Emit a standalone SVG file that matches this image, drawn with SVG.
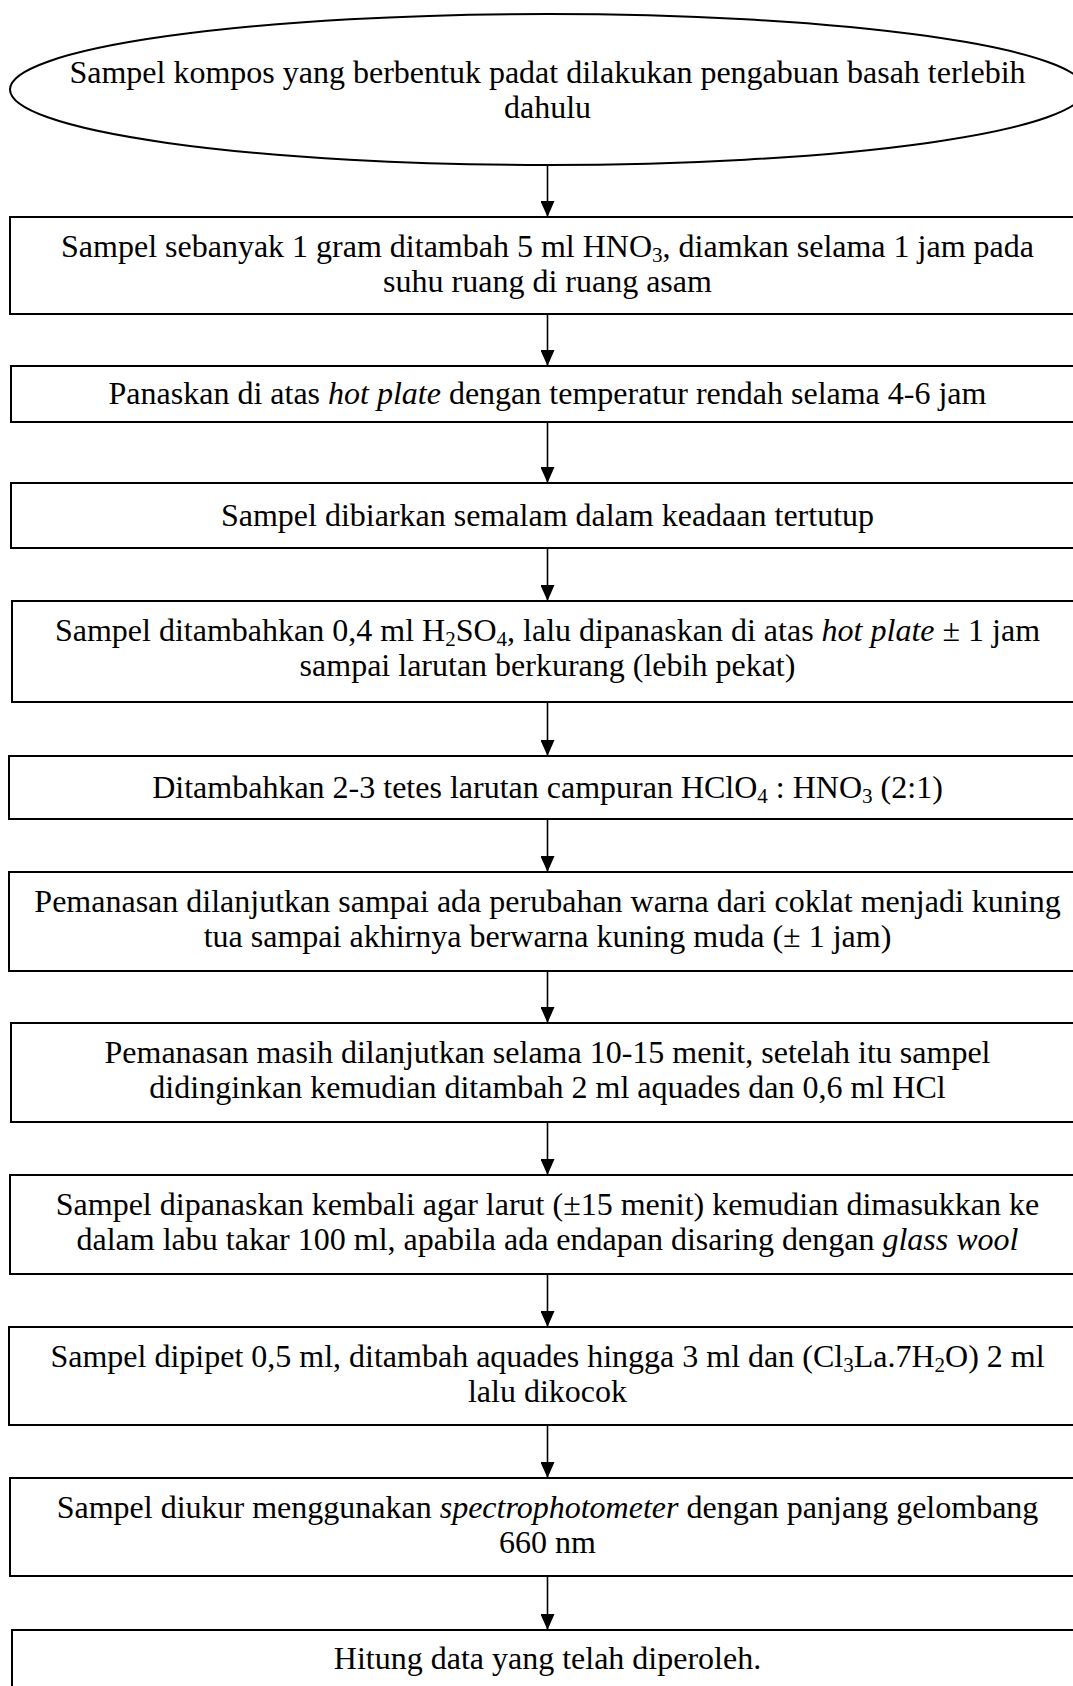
<svg xmlns="http://www.w3.org/2000/svg" width="1073" height="1686" viewBox="0 0 1073 1686">
<style>
  .bg { fill: #ffffff; }
  .node { fill: #ffffff; stroke: #000000; stroke-width: 2; }
  .t { font-family: "Liberation Serif", "Times New Roman", serif; font-size: 32px; fill: #000000; text-anchor: middle; }
  .sub { font-size: 21px; }
  .conn line { stroke: #000000; stroke-width: 1.6; fill: none; marker-end: url(#arrow); }
</style>
<defs>
  <marker id="arrow" markerUnits="userSpaceOnUse" viewBox="0 -7 16 14" refX="16" refY="0" markerWidth="16" markerHeight="14" orient="auto">
    <path d="M0,-7 L16,0 L0,7 z" fill="#000000"/>
  </marker>
</defs>
<rect class="bg" x="0" y="0" width="1073" height="1686"/>

<g id="connectors" class="conn">
  <line x1="547.5" y1="165" x2="547.5" y2="217"/>
  <line x1="547.5" y1="314" x2="547.5" y2="366"/>
  <line x1="547.5" y1="422" x2="547.5" y2="483"/>
  <line x1="547.5" y1="548" x2="547.5" y2="601"/>
  <line x1="547.5" y1="702" x2="547.5" y2="756"/>
  <line x1="547.5" y1="819" x2="547.5" y2="872"/>
  <line x1="547.5" y1="971" x2="547.5" y2="1023"/>
  <line x1="547.5" y1="1122" x2="547.5" y2="1175"/>
  <line x1="547.5" y1="1274" x2="547.5" y2="1327"/>
  <line x1="547.5" y1="1425" x2="547.5" y2="1478"/>
  <line x1="547.5" y1="1576" x2="547.5" y2="1630"/>
</g>

<g id="start">
  <ellipse class="node" cx="547.5" cy="89.5" rx="537.5" ry="75.5"/>
  <text class="t" x="547.5" y="83">Sampel kompos yang berbentuk padat dilakukan pengabuan basah terlebih</text>
  <text class="t" x="547.5" y="118">dahulu</text>
</g>

<g id="step1">
  <rect class="node" x="10" y="217" width="1075" height="97"/>
  <text class="t" x="547.5" y="257">Sampel sebanyak 1 gram ditambah 5 ml HNO<tspan class="sub" dy="5">3</tspan><tspan dy="-5">, diamkan selama 1 jam pada</tspan></text>
  <text class="t" x="547.5" y="292">suhu ruang di ruang asam</text>
</g>

<g id="step2">
  <rect class="node" x="11" y="366" width="1075" height="56"/>
  <text class="t" x="547.5" y="404">Panaskan di atas <tspan font-style="italic">hot plate</tspan> dengan temperatur rendah selama 4-6 jam</text>
</g>

<g id="step3">
  <rect class="node" x="11" y="483" width="1075" height="65"/>
  <text class="t" x="547.5" y="525.5">Sampel dibiarkan semalam dalam keadaan tertutup</text>
</g>

<g id="step4">
  <rect class="node" x="12" y="601" width="1075" height="101"/>
  <text class="t" x="547.5" y="641">Sampel ditambahkan 0,4 ml H<tspan class="sub" dy="5">2</tspan><tspan dy="-5">SO</tspan><tspan class="sub" dy="5">4</tspan><tspan dy="-5">, lalu dipanaskan di atas </tspan><tspan font-style="italic">hot plate</tspan> ± 1 jam</text>
  <text class="t" x="547.5" y="676">sampai larutan berkurang (lebih pekat)</text>
</g>

<g id="step5">
  <rect class="node" x="9" y="756" width="1075" height="63"/>
  <text class="t" x="547.5" y="797.5">Ditambahkan 2-3 tetes larutan campuran HClO<tspan class="sub" dy="5">4</tspan><tspan dy="-5"> : HNO</tspan><tspan class="sub" dy="5">3</tspan><tspan dy="-5"> (2:1)</tspan></text>
</g>

<g id="step6">
  <rect class="node" x="9" y="872" width="1075" height="99"/>
  <text class="t" x="547.5" y="912">Pemanasan dilanjutkan sampai ada perubahan warna dari coklat menjadi kuning</text>
  <text class="t" x="547.5" y="947">tua sampai akhirnya berwarna kuning muda (± 1 jam)</text>
</g>

<g id="step7">
  <rect class="node" x="11" y="1023" width="1075" height="99"/>
  <text class="t" x="547.5" y="1063">Pemanasan masih dilanjutkan selama 10-15 menit, setelah itu sampel</text>
  <text class="t" x="547.5" y="1098">didinginkan kemudian ditambah 2 ml aquades dan 0,6 ml HCl</text>
</g>

<g id="step8">
  <rect class="node" x="10" y="1175" width="1075" height="99"/>
  <text class="t" x="547.5" y="1215">Sampel dipanaskan kembali agar larut (±15 menit) kemudian dimasukkan ke</text>
  <text class="t" x="547.5" y="1250">dalam labu takar 100 ml, apabila ada endapan disaring dengan <tspan font-style="italic">glass wool</tspan></text>
</g>

<g id="step9">
  <rect class="node" x="9" y="1327" width="1075" height="98"/>
  <text class="t" x="547.5" y="1367">Sampel dipipet 0,5 ml, ditambah aquades hingga 3 ml dan (Cl<tspan class="sub" dy="5">3</tspan><tspan dy="-5">La.7H</tspan><tspan class="sub" dy="5">2</tspan><tspan dy="-5">O) 2 ml</tspan></text>
  <text class="t" x="547.5" y="1402">lalu dikocok</text>
</g>

<g id="step10">
  <rect class="node" x="10" y="1478" width="1075" height="98"/>
  <text class="t" x="547.5" y="1518">Sampel diukur menggunakan <tspan font-style="italic">spectrophotometer</tspan> dengan panjang gelombang</text>
  <text class="t" x="547.5" y="1553">660 nm</text>
</g>

<g id="step11">
  <rect class="node" x="12" y="1630" width="1075" height="80"/>
  <text class="t" x="547.5" y="1669">Hitung data yang telah diperoleh.</text>
</g>
</svg>
